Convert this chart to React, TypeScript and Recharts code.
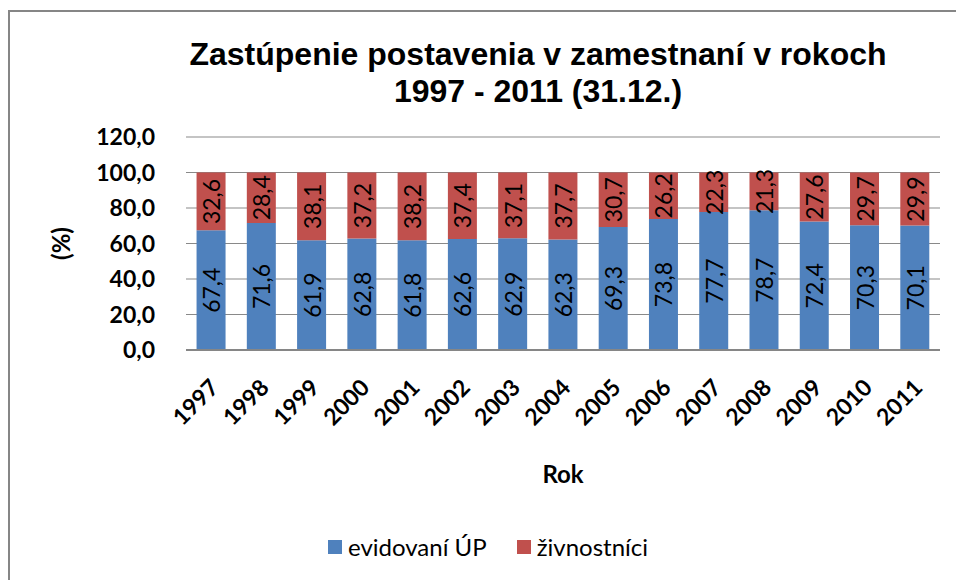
import { BarChart, Bar, XAxis, YAxis, CartesianGrid, LabelList, Legend } from 'recharts';

const years = ['1997', '1998', '1999', '2000', '2001', '2002', '2003', '2004', '2005', '2006', '2007', '2008', '2009', '2010', '2011'];
const evidovani = [67.4, 71.6, 61.9, 62.8, 61.8, 62.6, 62.9, 62.3, 69.3, 73.8, 77.7, 78.7, 72.4, 70.3, 70.1];
const zivnostnici = [32.6, 28.4, 38.1, 37.2, 38.2, 37.4, 37.1, 37.7, 30.7, 26.2, 22.3, 21.3, 27.6, 29.7, 29.9];
const yTicks = [0, 20, 40, 60, 80, 100, 120];

const seriesNames = ['evidovaní ÚP', 'živnostníci'];
const COLORS = ['#4F81BD', '#C0504D'];

const titleLines = ['Zastúpenie postavenia v zamestnaní v rokoch', '1997 - 2011 (31.12.)'];

const data = years.map((y, i) => ({ rok: y, evidovani: evidovani[i], zivnostnici: zivnostnici[i] }));

const fmt = (v: number) => v.toFixed(1).replace('.', ',');
const LABEL_FONT = 'Lato, "Open Sans", sans-serif';

function YearTick({ x, y, payload }: any) {
  return (
    <g transform={`translate(${x + 9},${y + 31})`}>
      <text textAnchor="end" transform="rotate(-45)" fontFamily={LABEL_FONT} fontWeight="bold" fontSize={23} fill="#000">
        {payload.value}
      </text>
    </g>
  );
}

function BarValue({ x, y, width, height, value }: any) {
  const cx = x + width / 2;
  const cy = y + height / 2;
  return (
    <text
      x={cx}
      y={cy}
      transform={`rotate(-90 ${cx} ${cy})`}
      textAnchor="middle"
      dominantBaseline="central"
      fontFamily={LABEL_FONT}
      fontSize={23}
      fill="#000"
    >
      {fmt(value)}
    </text>
  );
}

function PercentLabel({ viewBox }: any) {
  const cy = viewBox.y + viewBox.height / 2;
  return (
    <text x={60} y={cy} transform={`rotate(-90 60 ${cy})`} textAnchor="middle" dominantBaseline="central"
      fontFamily={LABEL_FONT} fontWeight="bold" fontSize={24} fill="#000">
      (%)
    </text>
  );
}

function LegendBox() {
  return (
    <div style={{ display: 'flex', justifyContent: 'center', paddingLeft: 36, fontFamily: LABEL_FONT, fontSize: 24, color: '#000' }}>
      {seriesNames.map((n, i) => (
        <div key={n} style={{ display: 'flex', alignItems: 'center', marginRight: i === 0 ? 30 : 0 }}>
          <span style={{ width: 14, height: 14, background: COLORS[i], display: 'inline-block', marginRight: 6 }} />
          <span>{n}</span>
        </div>
      ))}
    </div>
  );
}

export default function App() {
  return (
    <div style={{ position: 'absolute', left: 0, top: 0, width: 956, height: 580, background: '#fff', overflow: 'hidden' }}>
      <div style={{ position: 'absolute', left: 8, top: 10, width: 960, height: 580, borderTop: '2px solid #868686', borderLeft: '2px solid #868686' }} />
      <div style={{ position: 'absolute', left: 88, top: 36, width: 900, textAlign: 'center', fontFamily: '"Liberation Sans", Arial, sans-serif', fontWeight: 'bold', fontSize: 32, lineHeight: '37px', color: '#000' }}>
        {titleLines.map(t => <div key={t}>{t}</div>)}
      </div>
      <div style={{ position: 'absolute', left: 0, top: 0 }}>
        <BarChart width={956} height={580} data={data} margin={{ top: 137, right: 16, bottom: 18, left: 0 }} barCategoryGap="21%">
          <CartesianGrid vertical={false} stroke="#898989" strokeWidth={1} />
          <XAxis
            dataKey="rok"
            height={182}
            tick={<YearTick />}
            tickLine={false}
            axisLine={{ stroke: '#868686', strokeWidth: 2 }}
            interval={0}
            label={{ value: 'Rok', position: 'insideTop', offset: 116, fontFamily: LABEL_FONT, fontWeight: 'bold', fontSize: 24, fill: '#000' }}
          />
          <YAxis
            width={186}
            domain={[0, 120]}
            ticks={yTicks}
            tickFormatter={fmt}
            tickLine={false}
            tickSize={0}
            tickMargin={31}
            axisLine={false}
            tick={{ fontFamily: LABEL_FONT, fontWeight: 'bold', fontSize: 23, fill: '#000' }}
            label={<PercentLabel />}
          />
          <Legend verticalAlign="bottom" height={30} content={<LegendBox />} />
          <Bar dataKey="evidovani" name={seriesNames[0]} stackId="a" fill={COLORS[0]} isAnimationActive={false}>
            <LabelList dataKey="evidovani" content={<BarValue />} />
          </Bar>
          <Bar dataKey="zivnostnici" name={seriesNames[1]} stackId="a" fill={COLORS[1]} isAnimationActive={false}>
            <LabelList dataKey="zivnostnici" content={<BarValue />} />
          </Bar>
        </BarChart>
      </div>
    </div>
  );
}
